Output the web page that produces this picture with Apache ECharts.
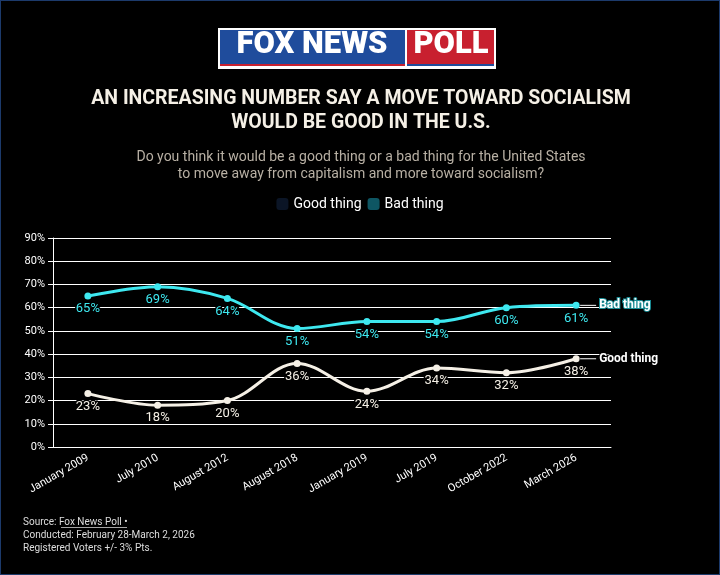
<!DOCTYPE html><html><head><meta charset="utf-8">
<script src="https://cdn.jsdelivr.net/npm/echarts@6/dist/echarts.min.js"></script>
<style>html,body{margin:0;background:#000}#c{width:718px;height:573px;border:1px solid #1c3a6b}</style></head><body><div id="c"></div>
<script>
const categories=['January 2009','July 2010','August 2012','August 2018','January 2019','July 2019','October 2022','March 2026'];
const goodThing=[23,18,20,36,24,34,32,38];
const badThing=[65,69,64,51,54,54,60,61];
const yTicks=[0,10,20,30,40,50,60,70,80,90];
const ch=echarts.init(document.getElementById('c'));
const F='Roboto';
ch.setOption({
backgroundColor:'#000',
textStyle:{fontFamily:F},
graphic:[
 {type:'rect',shape:{x:217,y:27,width:278,height:41},style:{fill:'#fff'}},
 {type:'rect',shape:{x:219,y:29,width:185,height:35},style:{fill:'#1f4c9c'}},
 {type:'rect',shape:{x:406,y:29,width:87,height:35},style:{fill:'#c8202f'}},
 {type:'rect',shape:{x:219,y:63,width:185,height:2},style:{fill:'#c8202f'}},
 {type:'rect',shape:{x:406,y:63,width:87,height:2},style:{fill:'#1f4c9c'}},
 {type:'text',x:311,y:29,style:{text:'FOX NEWS',fill:'#fff',font:'900 31px '+F,textAlign:'center'}},
 {type:'text',x:450,y:29,style:{text:'POLL',fill:'#fff',font:'900 31px '+F,textAlign:'center'}},
 {type:'text',x:360,y:86,style:{text:'AN INCREASING NUMBER SAY A MOVE TOWARD SOCIALISM\nWOULD BE GOOD IN THE U.S.',fill:'#f5f0e6',font:'bold 19.5px '+F,textAlign:'center',lineHeight:24}},
 {type:'text',x:360,y:148,style:{text:'Do you think it would be a good thing or a bad thing for the United States\nto move away from capitalism and more toward socialism?',fill:'#b8b0a4',font:'14px '+F,textAlign:'center',lineHeight:17}},
 {type:'text',x:22,y:515,style:{text:'Source: Fox News Poll •\nConducted: February 28-March 2, 2026\nRegistered Voters +/- 3% Pts.',fill:'#ddd',font:'10px '+F,lineHeight:13}},
 {type:'rect',shape:{x:60,y:526,width:66,height:0.8},style:{fill:'#ddd'}}
],
legend:{top:191,left:'center',itemWidth:12,itemHeight:12,itemGap:6,icon:'roundRect',textStyle:{color:'#fff',fontSize:14,fontFamily:F},
 data:[{name:'Good thing',itemStyle:{color:'#0b1526'}},{name:'Bad thing',itemStyle:{color:'#0e5663'}}]},
grid:{left:52,right:108,top:237,bottom:127},
xAxis:{type:'category',data:categories,boundaryGap:true,axisLine:{lineStyle:{color:'#fff'}},axisTick:{alignWithLabel:true,lineStyle:{color:'#fff'}},
 axisLabel:{color:'#fff',rotate:30,fontSize:11,interval:0,margin:10}},
yAxis:{type:'value',min:0,max:90,interval:10,axisLine:{show:true,lineStyle:{color:'#fff'}},axisTick:{show:true,lineStyle:{color:'#fff'}},
 splitLine:{lineStyle:{color:'#fff'}},axisLabel:{color:'#fff',fontSize:11,formatter:v=>yTicks.includes(v)?v+'%':''}},
series:[
 {name:'Good thing',type:'line',smooth:0.35,data:goodThing,symbol:'circle',symbolSize:7,color:'#f5f0e6',lineStyle:{width:3},
  label:{show:true,position:'bottom',distance:3,formatter:'{c}%',color:'#f5f0e6',fontSize:13,textBorderColor:'#000',textBorderWidth:3},
  endLabel:{show:true,formatter:'{l|}{t|Good thing}',distance:4,rich:{l:{width:16,height:1,backgroundColor:'#fff'},t:{color:'#fff',fontSize:12,fontWeight:'bold',textBorderColor:'#000',textBorderWidth:2,padding:[0,0,0,3]}}}},
 {name:'Bad thing',type:'line',smooth:0.35,data:badThing,symbol:'circle',symbolSize:7,color:'#3ee8f0',lineStyle:{width:3},
  label:{show:true,position:'bottom',distance:3,formatter:'{c}%',color:'#3ee8f0',fontSize:13,textBorderColor:'#000',textBorderWidth:3},
  endLabel:{show:true,formatter:'{l|}{t|Bad thing}',distance:4,rich:{l:{width:16,height:1,backgroundColor:'#fff'},t:{color:'#fff',fontSize:12,fontWeight:'bold',textBorderColor:'#1a8e97',textBorderWidth:2,padding:[0,0,0,3]}}}}
]
});
</script></body></html>
